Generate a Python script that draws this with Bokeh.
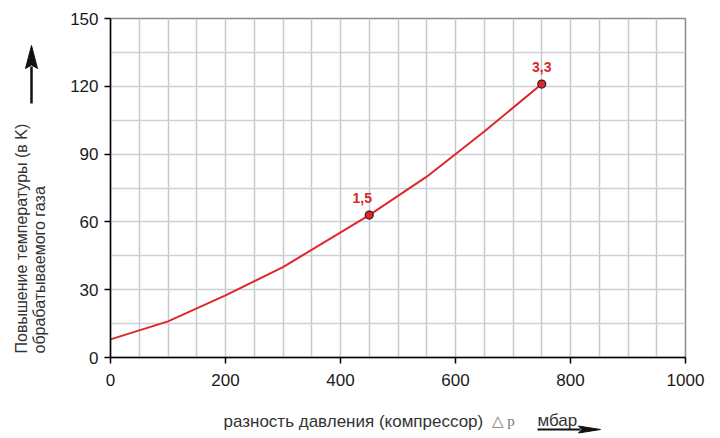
import math
from bokeh.plotting import figure
from bokeh.layouts import row, column
from bokeh.models import ColumnDataSource, FixedTicker, Range1d
from bokeh.core.properties import value
from bokeh.embed import file_html
from bokeh.resources import INLINE

# ---- data ----
x_mbar = [0, 100, 200, 300, 450, 550, 650, 750]
dT_K = [8, 16, 27.5, 40, 63, 80, 100, 121]
mark_x = [450, 750]
mark_y = [63, 121]
mark_labels = ["1,5", "3,3"]
x_ticks = [0, 200, 400, 600, 800, 1000]
y_ticks = [0, 30, 60, 90, 120, 150]
x_grid = list(range(0, 1001, 50))
y_grid = list(range(0, 151, 15))
y_title_1 = "Повышение температуры (в K)"
y_title_2 = "обрабатываемого газа"
x_title = "разность давления (компрессор)"
x_symbol = "△ p"
x_unit = "мбар"

FONT = "Liberation Sans"
label_dx = [-7, 0]   # style: horizontal shift of the point labels (px)

# ---------------- main chart ----------------
p = figure(width=652, height=398, output_backend="svg", toolbar_location=None,
           x_range=Range1d(0, 1000), y_range=Range1d(0, 150),
           min_border_left=50, min_border_right=27, min_border_top=18,
           min_border_bottom=41)

p.outline_line_color = "#8a8d92"
p.outline_line_width = 1.5

for ax, t in ((p.xaxis, x_ticks), (p.yaxis, y_ticks)):
    ax.ticker = FixedTicker(ticks=t)
    ax.minor_tick_line_color = None
    ax.major_tick_out = 6
    ax.major_tick_in = 0
    ax.axis_line_color = "black"
    ax.axis_line_width = 1.5
    ax.major_tick_line_color = "black"
    ax.major_tick_line_width = 1.5
    ax.major_label_text_font = FONT
    ax.major_label_text_font_size = "17px"
    ax.major_label_text_color = "#1a1a1a"
p.xaxis.major_label_standoff = 10
p.yaxis.major_label_standoff = 6

p.xgrid.ticker = FixedTicker(ticks=x_grid)
p.ygrid.ticker = FixedTicker(ticks=y_grid)
p.xgrid.grid_line_color = "#c6c9d0"
p.ygrid.grid_line_color = "#cdd0d6"
p.xgrid.grid_line_width = 1.5
p.ygrid.grid_line_width = 1.5

src = ColumnDataSource(dict(x=x_mbar, y=dT_K))
p.line("x", "y", source=src, line_color="#e0262a", line_width=2)

msrc = ColumnDataSource(dict(x=mark_x, y=mark_y, t=mark_labels, ox=label_dx))
p.scatter("x", "y", source=msrc, size=8, fill_color="#e0262a",
          line_color="#3a1a1a", line_width=1.2)
p.text("x", "y", text="t", source=msrc, x_offset="ox", y_offset=-12,
       text_font=value(FONT), text_font_size="14px", text_font_style="bold",
       text_color="#d42a2a", text_align="center", text_baseline="bottom")


# ---------------- side strips (pixel coordinates) ----------------
def strip(w, h, x0, x1, y0, y1):
    f = figure(width=w, height=h, output_backend="svg", toolbar_location=None,
               x_range=Range1d(x0, x1), y_range=Range1d(y1, y0),
               x_axis_type=None, y_axis_type=None, min_border=0)
    f.grid.visible = False
    f.outline_line_color = None
    return f


def arrow(f, x0, y0, x1, y1, width, head_len, head_w):
    L = math.hypot(x1 - x0, y1 - y0)
    ux, uy = (x1 - x0) / L, (y1 - y0) / L
    bx, by = x1 - ux * head_len, y1 - uy * head_len
    f.segment(x0=[x0], y0=[y0], x1=[bx + ux * 2], y1=[by + uy * 2],
              line_color="#111111", line_width=width)
    nx, ny = -uy, ux
    f.patch([x1, bx + nx * head_w / 2, bx + ux * head_len * 0.15, bx - nx * head_w / 2],
            [y1, by + ny * head_w / 2, by + uy * head_len * 0.15, by - ny * head_w / 2],
            fill_color="#111111", line_color="#111111", line_width=1)


left = strip(60, 436, 0, 60, 0, 436)
left.text(x=[21], y=[353], text=[y_title_1], angle=math.pi / 2,
          text_align="left", text_baseline="middle", text_font=value(FONT),
          text_font_size="16px", text_color="#333333")
left.text(x=[39], y=[353], text=[y_title_2], angle=math.pi / 2,
          text_align="left", text_baseline="middle", text_font=value(FONT),
          text_font_size="16px", text_color="#333333")
arrow(left, 31, 103, 31, 45, 2.5, 23, 12)

# the bottom strip's frame is aligned with the main frame (page x 110..685)
bottom = strip(652, 38, 110, 685, 398, 436)
bottom.text(x=[223], y=[421], text=[x_title], text_align="left",
            text_baseline="middle", text_font=value(FONT),
            text_font_size="17px", text_color="#333333")
bottom.text(x=[491], y=[420], text=[x_symbol], text_align="left",
            text_baseline="middle", text_font=value("Liberation Serif"),
            text_font_size="15px", text_color="#777777")
bottom.text(x=[537], y=[420], text=[x_unit], text_align="left",
            text_baseline="middle", text_font=value(FONT),
            text_font_size="17px", text_color="#333333")
arrow(bottom, 537, 429, 600, 429, 2, 22, 7)

layout = row(left, column(p, bottom, spacing=0), spacing=0)

open("out.html", "w").write(file_html(layout, INLINE))
